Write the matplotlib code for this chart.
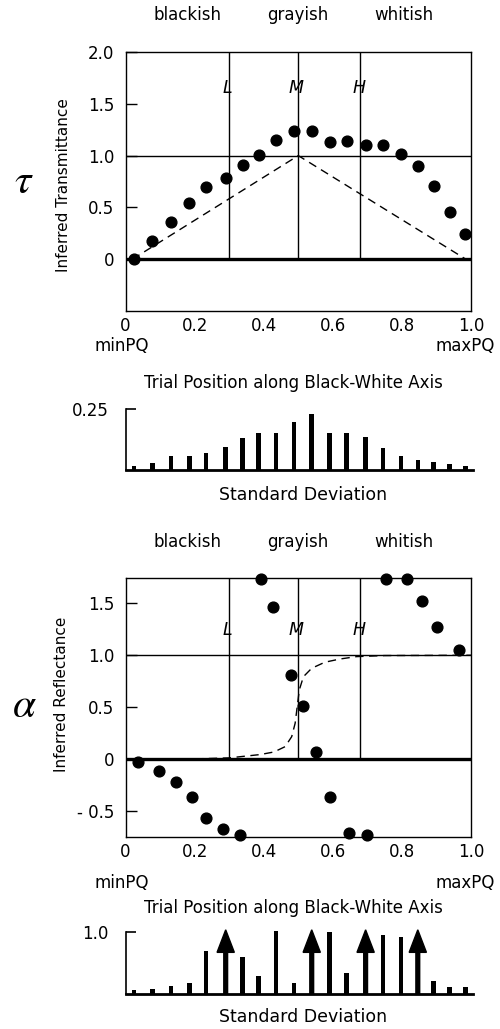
import matplotlib
matplotlib.use("Agg")
import matplotlib.pyplot as plt
import numpy as np

plt.rcParams['font.family'] = ['DejaVu Sans']
plt.rcParams['mathtext.fontset'] = 'stix'

# ---------------- data ----------------
trial_x = [0.025, 0.078, 0.132, 0.185, 0.233, 0.290, 0.339, 0.385, 0.436, 0.487,
           0.539, 0.591, 0.640, 0.695, 0.746, 0.798, 0.846, 0.892, 0.938, 0.984]

tau_vals = [0.0, 0.18, 0.36, 0.545, 0.70, 0.785, 0.913, 1.01, 1.147, 1.234,
            1.234, 1.13, 1.138, 1.106, 1.106, 1.02, 0.904, 0.705, 0.459, 0.24]

tau_sd = [0.018, 0.027, 0.059, 0.059, 0.069, 0.093, 0.130, 0.154, 0.154, 0.196,
          0.232, 0.154, 0.154, 0.135, 0.089, 0.058, 0.041, 0.032, 0.023, 0.018]

alpha_x = [0.037, 0.096, 0.146, 0.192, 0.232, 0.281, 0.331, 0.391, 0.428, 0.478,
           0.513, 0.550, 0.592, 0.648, 0.698, 0.754, 0.816, 0.859, 0.902, 0.965]
alpha_vals = [-0.03, -0.113, -0.215, -0.365, -0.561, -0.67, -0.728, 1.736, 1.467, 0.81,
              0.515, 0.067, -0.365, -0.712, -0.728, 1.736, 1.736, 1.522, 1.272, 1.048]

alpha_sd = [0.069, 0.09, 0.133, 0.176, 0.69, 1.03, 0.60, 0.29, 1.016, 0.176,
            1.03, 0.99, 0.346, 1.03, 0.947, 0.92, 1.03, 0.218, 0.11, 0.11]
alpha_sd_offscale = [False, False, False, False, False, True, False, False, False, False,
                     True, False, False, True, False, False, True, False, False, False]

tau_model_x = [0.02, 0.5, 0.985]
tau_model_y = [0.0, 1.0, 0.0]

alpha_model_x = [0.0, 0.2, 0.3, 0.39, 0.43, 0.462, 0.481, 0.491, 0.497, 0.503,
                 0.515, 0.539, 0.577, 0.621, 0.669, 0.75, 1.0]
alpha_model_y = [0.0, 0.003, 0.013, 0.045, 0.07, 0.121, 0.217, 0.346, 0.506, 0.666,
                 0.794, 0.875, 0.933, 0.964, 0.987, 0.997, 1.0]

lmh_x = [0.30, 0.50, 0.68]
lmh_labels = ['L', 'M', 'H']
region_labels = ['blackish', 'grayish', 'whitish']
region_px = [187.7, 298, 404]

x_ticks = [0, 0.2, 0.4, 0.6, 0.8, 1.0]
x_ticklabels = ['0', '0.2', '0.4', '0.6', '0.8', '1.0']
tau_yticks = [0, 0.5, 1.0, 1.5, 2.0]
tau_yticklabels = ['0', '0.5', '1.0', '1.5', '2.0']
alpha_yticks = [-0.5, 0, 0.5, 1.0, 1.5]
alpha_yticklabels = ['- 0.5', '0', '0.5', '1.0', '1.5']

# ---------------- figure ----------------
W, H = 500, 1029
fig = plt.figure(figsize=(W / 100, H / 100), dpi=100)

def fx(px):
    return px / W

def fy(py):
    return 1 - py / H

def add_ax(left, top, right, bottom):
    return fig.add_axes([fx(left), fy(bottom), (right - left) / W, (bottom - top) / H])

FS = 12

def main_panel(ax, ylim, yticks, yticklabels, lmh_y):
    ax.set_xlim(0, 1)
    ax.set_ylim(*ylim)
    for s in ax.spines.values():
        s.set_linewidth(1.0)
    ax.set_xticks(x_ticks)
    ax.set_xticklabels(x_ticklabels, fontsize=FS)
    ax.tick_params(axis='x', length=0, pad=4.5)
    ax.set_yticks(yticks)
    ax.set_yticklabels(yticklabels, fontsize=FS)
    ax.tick_params(axis='y', direction='in', length=8, width=1.0, pad=8)
    ax.axhline(1.0, color='black', lw=1.0)
    ax.axhline(0.0, color='black', lw=2.4)
    for xv, lab in zip(lmh_x, lmh_labels):
        ax.plot([xv, xv], [0, ylim[1]], color='black', lw=1.0)
        ax.text(xv - 0.005, lmh_y, lab, fontsize=12.5, style='italic',
                ha='center', va='center', fontfamily='DejaVu Sans')

def bar_panel(ax, top_val, label):
    ax.set_xlim(0, (473 - 125.5) / 345.5)
    ax.set_ylim(0, top_val)
    ax.spines['top'].set_visible(False)
    ax.spines['right'].set_visible(False)
    ax.spines['left'].set_linewidth(1.2)
    ax.spines['bottom'].set_linewidth(2.0)
    ax.set_xticks([])
    ax.set_yticks([top_val])
    ax.set_yticklabels([label], fontsize=FS)
    ax.tick_params(axis='y', direction='in', length=7, width=1.2, pad=12)

# ---- top panel (tau) ----
ax1 = add_ax(125.5, 52, 471, 311)
main_panel(ax1, (-0.5, 2.0), tau_yticks, tau_yticklabels, 1.65)
ax1.plot(tau_model_x, tau_model_y, color='black', lw=1.0, dashes=(6, 4))
ax1.scatter(trial_x, tau_vals, s=60, color='black', zorder=5, clip_on=False)

ax1b = add_ax(125.5, 409.3, 473, 470)
bar_panel(ax1b, 0.25, '0.25')
ax1b.bar(trial_x, tau_sd, width=0.013, color='black', clip_on=False)

# ---- bottom panel (alpha) ----
ax2 = add_ax(125.5, 578.3, 471, 836.7)
main_panel(ax2, (-0.745, 1.74), alpha_yticks, alpha_yticklabels, 1.243)
ax2.plot(alpha_model_x, alpha_model_y, color='black', lw=1.0, dashes=(6, 4))
ax2.scatter(alpha_x, alpha_vals, s=60, color='black', zorder=5, clip_on=False)

ax2b = add_ax(125.5, 931.7, 473, 994.3)
bar_panel(ax2b, 1.0, '1.0')
for xv, v, off in zip(trial_x, alpha_sd, alpha_sd_offscale):
    if off:
        ax2b.arrow(xv, 0, 0, v, width=0.011, head_width=0.05, head_length=0.36,
                   length_includes_head=True, color='black', clip_on=False)
    else:
        ax2b.bar(xv, v, width=0.013, color='black', clip_on=False)

# ---------------- texts ----------------
for px, lab in zip(region_px, region_labels):
    fig.text(fx(px), fy(15), lab, fontsize=FS, ha='center', va='center')
    fig.text(fx(px), fy(541.7), lab, fontsize=FS, ha='center', va='center')

fig.text(fx(24), fy(181), r'$\tau$', fontsize=30, ha='center', va='center')
fig.text(fx(24), fy(705), r'$\alpha$', fontsize=30, ha='center', va='center')

fig.text(fx(63), fy(185), 'Inferred Transmittance', fontsize=11, rotation=90,
         ha='center', va='center')
fig.text(fx(62), fy(694), 'Inferred Reflectance', fontsize=11, rotation=90,
         ha='center', va='center')

for ymin, ytrial, ysd in [(346, 383, 495), (882.5, 908.3, 1016.7)]:
    fig.text(fx(121.7), fy(ymin), 'minPQ', fontsize=FS, ha='center', va='center')
    fig.text(fx(465), fy(ymin), 'maxPQ', fontsize=FS, ha='center', va='center')
    fig.text(fx(293), fy(ytrial), 'Trial Position along Black-White Axis', fontsize=FS,
             ha='center', va='center')
    fig.text(fx(303), fy(ysd), 'Standard Deviation', fontsize=12.5, ha='center', va='center')

fig.savefig('out.png', dpi=100)
